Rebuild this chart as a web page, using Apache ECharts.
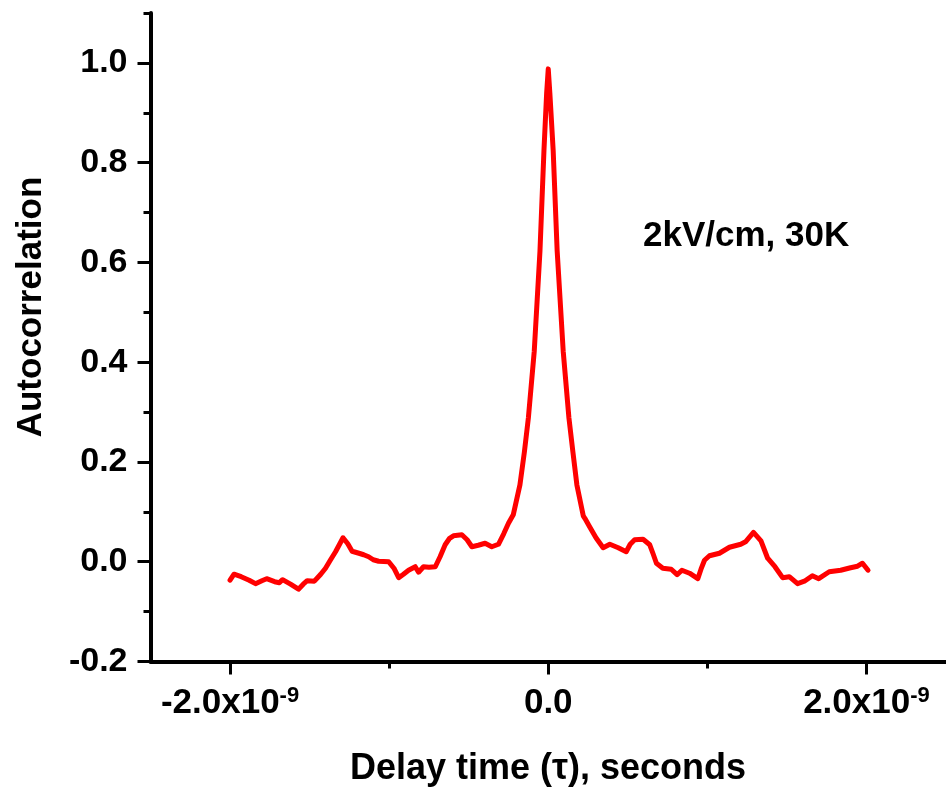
<!DOCTYPE html>
<html>
<head>
<meta charset="utf-8">
<script src="https://cdn.jsdelivr.net/npm/echarts@6/dist/echarts.min.js"></script>
<style>
html,body{margin:0;padding:0;background:#fff;}
#chart{width:946px;height:795px;}
</style>
</head>
<body>
<div id="chart"></div>
<script>
// Delay time in nanoseconds (axis labels shown as x10^-9 s)
var delayNs = [
  -2.00,-1.975,-1.93,-1.88,-1.84,-1.80,-1.77,-1.72,-1.69,-1.67,-1.62,-1.57,-1.54,-1.515,-1.47,-1.43,-1.40,-1.37,-1.337,-1.31,
  -1.29,-1.26,-1.233,-1.19,-1.16,-1.129,-1.10,-1.066,-1.003,-0.97,-0.94,-0.91,-0.878,-0.836,-0.815,-0.784,-0.75,-0.71,-0.68,-0.648,
  -0.62,-0.596,-0.543,-0.51,-0.48,-0.44,-0.397,-0.355,-0.313,-0.28,-0.25,-0.22,-0.178,-0.15,-0.125,-0.088,-0.052,-0.027,-0.01,0,
  0.01,0.031,0.056,0.094,0.13,0.155,0.18,0.22,0.23,0.26,0.30,0.345,0.387,0.44,0.49,0.515,0.543,0.596,0.638,0.66,
  0.68,0.72,0.773,0.81,0.84,0.888,0.94,0.96,0.982,1.013,1.076,1.139,1.21,1.24,1.29,1.337,1.379,1.425,1.473,1.515,
  1.567,1.61,1.66,1.70,1.766,1.838,1.90,1.944,1.975,2.01
];
var autocorr = [
  -0.037,-0.025,-0.030,-0.037,-0.044,-0.038,-0.034,-0.040,-0.042,-0.036,-0.045,-0.055,-0.045,-0.038,-0.039,-0.025,-0.013,0.003,0.020,0.036,
  0.048,0.036,0.021,0.017,0.014,0.010,0.004,0.001,0.000,-0.013,-0.032,-0.025,-0.017,-0.010,-0.021,-0.010,-0.011,-0.010,0.010,0.034,
  0.047,0.052,0.054,0.044,0.030,0.033,0.037,0.030,0.035,0.056,0.077,0.094,0.154,0.22,0.288,0.422,0.623,0.824,0.94,0.988,
  0.94,0.824,0.623,0.422,0.288,0.22,0.154,0.092,0.087,0.070,0.048,0.028,0.035,0.028,0.020,0.035,0.044,0.045,0.034,0.015,
  -0.003,-0.013,-0.015,-0.026,-0.017,-0.023,-0.034,-0.015,0.003,0.012,0.017,0.029,0.035,0.040,0.059,0.042,0.007,-0.010,-0.032,-0.030,
  -0.044,-0.039,-0.028,-0.034,-0.020,-0.017,-0.012,-0.009,-0.003,-0.017
];
var xMajorTicks = [-2, 0, 2];
var xMinorTicks = [-1, 1];
var yMajorTicks = [-0.2, 0.0, 0.2, 0.4, 0.6, 0.8, 1.0];
var yMinorTicks = [-0.1, 0.1, 0.3, 0.5, 0.7, 0.9, 1.1];
var xTitle = 'Delay time (\u03c4), seconds';
var yTitle = 'Autocorrelation';
var annotation = '2kV/cm, 30K';

var FONT = '"Liberation Sans", Arial, sans-serif';
var points = delayNs.map(function (x, i) { return [x, autocorr[i]]; });

var chart = echarts.init(document.getElementById('chart'), null, {renderer: 'canvas'});
chart.setOption({
  animation: false,
  backgroundColor: '#ffffff',
  grid: {left: 150.5, right: -3.5, top: 13, bottom: 133.5, containLabel: false},
  xAxis: [{
    type: 'value', min: -2.5, max: 2.5, position: 'bottom',
    axisLine: {show: true, onZero: false, lineStyle: {color: '#000', width: 4}},
    axisTick: {show: true, customValues: xMajorTicks, length: 13, inside: false, lineStyle: {color: '#000', width: 3}},
    splitLine: {show: false},
    axisLabel: {
      show: true, customValues: xMajorTicks, margin: 23,
      formatter: function (v) {
        if (Math.abs(v) < 1e-9) return '{b|0.0}';
        return '{b|' + (v < 0 ? '-' : '') + Math.abs(v).toFixed(1) + 'x10}{s|-9}';
      },
      rich: {
        b: {fontFamily: FONT, fontWeight: 'bold', fontSize: 35, color: '#000', lineHeight: 38},
        s: {fontFamily: FONT, fontWeight: 'bold', fontSize: 22, color: '#000', verticalAlign: 'top', lineHeight: 38, padding: [0, 0, 20, 0]}
      }
    }
  }, {
    type: 'value', min: -2.5, max: 2.5, position: 'bottom', offset: 0,
    axisLine: {show: false, onZero: false},
    axisTick: {show: true, customValues: xMinorTicks, length: 7, lineStyle: {color: '#000', width: 3}},
    axisLabel: {show: false},
    splitLine: {show: false}
  }],
  yAxis: [{
    type: 'value', min: -0.2, max: 1.1, position: 'left',
    axisLine: {show: true, onZero: false, lineStyle: {color: '#000', width: 4}},
    axisTick: {show: true, customValues: yMajorTicks, length: 13, lineStyle: {color: '#000', width: 3}},
    splitLine: {show: false},
    axisLabel: {
      show: true, customValues: yMajorTicks, margin: 23,
      fontFamily: FONT, fontWeight: 'bold', fontSize: 34, color: '#000',
      formatter: function (v) { return (Math.abs(v) < 1e-9 ? 0 : v).toFixed(1); }
    }
  }, {
    type: 'value', min: -0.2, max: 1.1, position: 'left', offset: 0,
    axisLine: {show: false, onZero: false},
    axisTick: {show: true, customValues: yMinorTicks, length: 7, lineStyle: {color: '#000', width: 3}},
    axisLabel: {show: false},
    splitLine: {show: false}
  }],
  graphic: [
    {type: 'text', x: 548, y: 769, style: {text: xTitle, font: 'bold 36px ' + FONT, fill: '#000', textAlign: 'center', textVerticalAlign: 'middle'}},
    {type: 'text', x: 31, y: 307, rotation: Math.PI / 2, style: {text: yTitle, font: 'bold 35px ' + FONT, fill: '#000', textAlign: 'center', textVerticalAlign: 'middle'}},
    {type: 'text', x: 643, y: 236, style: {text: annotation, font: 'bold 35px ' + FONT, fill: '#000', textAlign: 'left', textVerticalAlign: 'middle'}}
  ],
  series: [{
    type: 'line', xAxisIndex: 0, yAxisIndex: 0,
    data: points, showSymbol: false, symbol: 'none', smooth: false,
    lineStyle: {color: '#ff0000', width: 5, cap: 'round', join: 'round'}
  }]
});
</script>
</body>
</html>
